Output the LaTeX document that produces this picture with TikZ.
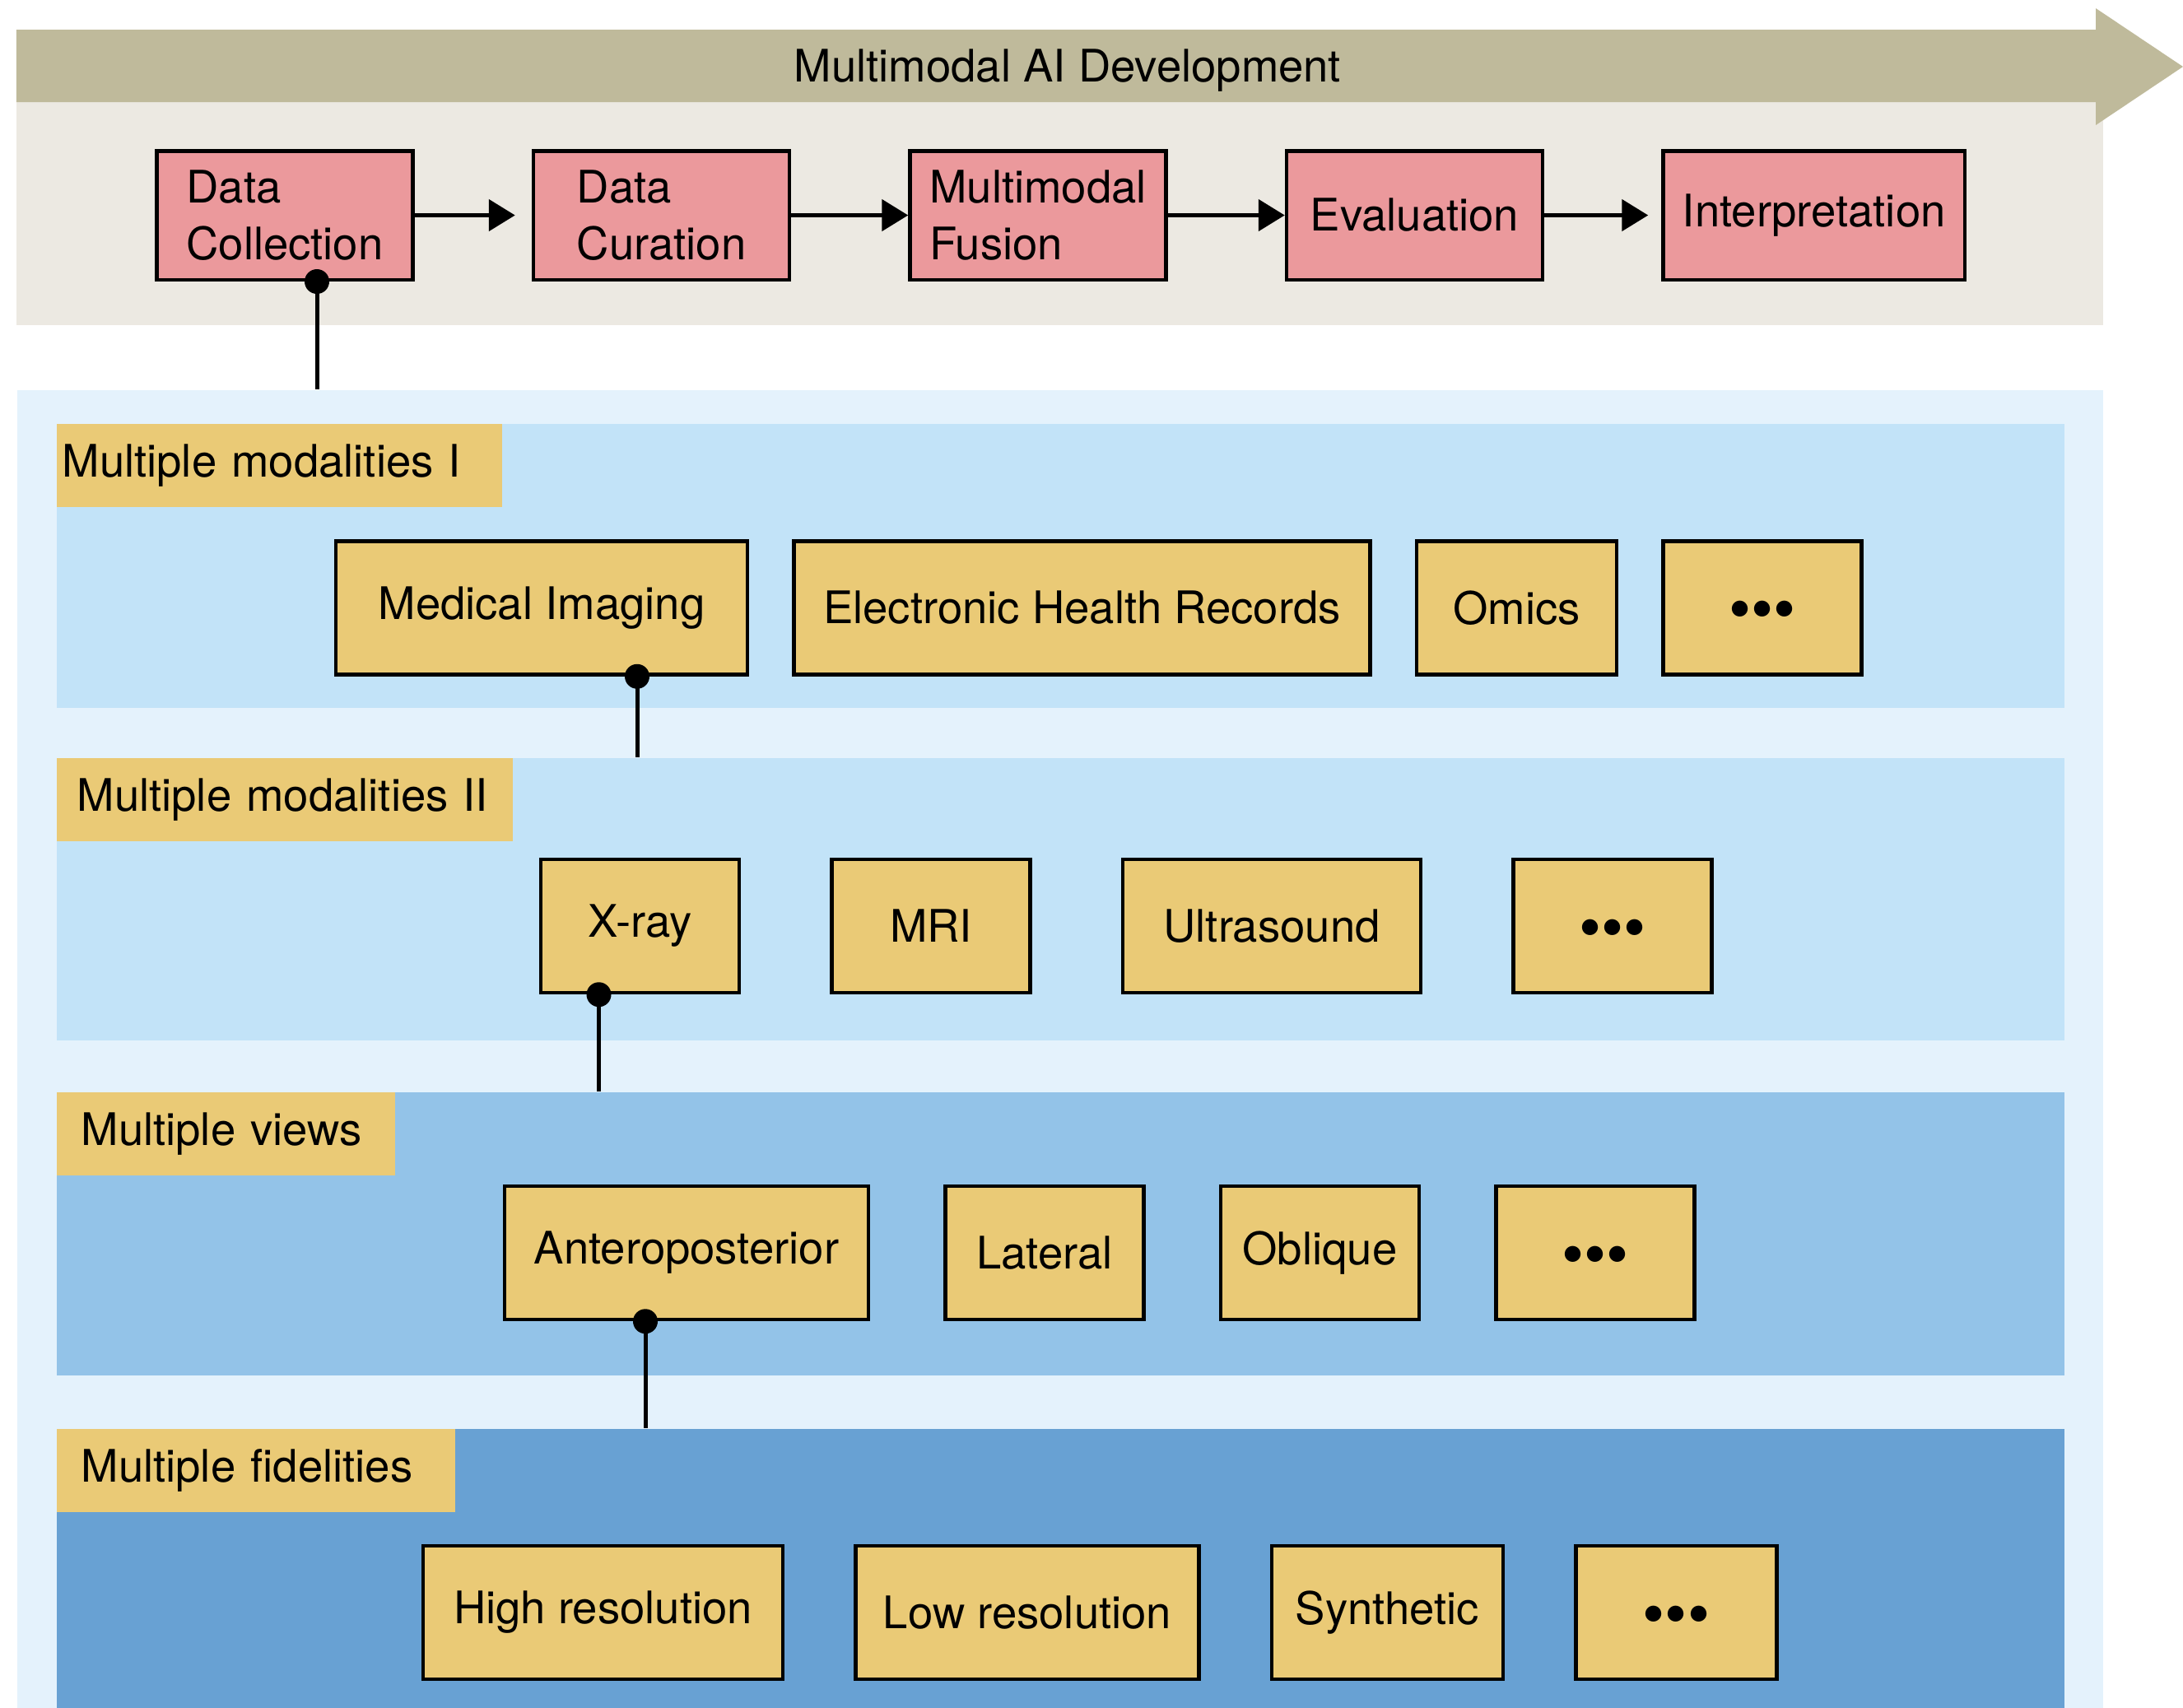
\documentclass[tikz,border=0pt]{standalone}
\usepackage{fontspec}
\setmainfont{TeX Gyre Heros}
\usetikzlibrary{positioning}
\usetikzlibrary{arrows.meta}

\definecolor{bandtan}{HTML}{BFBA9B}
\definecolor{panelbeige}{HTML}{ECE9E2}
\definecolor{stagepink}{HTML}{EB999C}
\definecolor{itemyellow}{HTML}{EACA76}
\definecolor{outerblue}{HTML}{E4F2FC}
\definecolor{lightblue}{HTML}{C2E3F8}
\definecolor{midblue}{HTML}{93C3E8}
\definecolor{deepblue}{HTML}{68A1D3}

\begin{document}
\begin{tikzpicture}[
        font=\fontsize{15.5}{19.6}\selectfont,
        stage/.style={
            draw,
            line width=0.045cm,
            fill=stagepink,
            align=left,
            minimum width=3.11cm,
            minimum height=1.565cm,
            inner sep=0pt,
        },
        item/.style={
            draw,
            line width=0.045cm,
            fill=itemyellow,
            minimum height=1.62cm,
            inner sep=0pt,
        },
        layer/.style={
            anchor=north west,
            inner sep=0pt,
        },
        tag/.style={
            anchor=north west,
            fill=itemyellow,
            align=left,
            minimum height=1.01cm,
            inner ysep=0pt,
            inner xsep=0.30cm,
        },
        flow/.style={
            -{Triangle[length=0.32cm,width=0.38cm]},
            line width=0.05cm,
        },
        link/.style={
            line width=0.05cm,
        },
        more/.style={
            font=\fontsize{22}{22}\selectfont,
        },
    ]
    \useasboundingbox (0,0) rectangle (26.52,-20.74);

    % Draw development arrow.
    \fill[panelbeige] (0.20,-1.24) rectangle (25.55,-3.95);
    \fill[bandtan] (0.20,-0.36) -- (25.46,-0.36) -- (25.46,-0.10)
        -- (26.52,-0.81) -- (25.46,-1.52) -- (25.46,-1.24) -- (0.20,-1.24) -- cycle;
    \node (title) at (12.97,-0.86) {Multimodal AI Development};

    % Define stages.
    \node[stage] (dc) at (3.46,-2.615) {Data\\Collection};
    \node[stage, right=1.42 of dc] (dcur) {Data\\Curation};
    \node[stage, right=1.42 of dcur] (fus) {Multimodal\\Fusion};
    \node[stage, right=1.42 of fus] (eval) {Evaluation};
    \node[stage, minimum width=3.665cm, right=1.42 of eval] (interp) {Interpretation};

    % Draw transitions.
    \draw[flow, shorten >=0.2cm] (dc) -- (dcur);
    \draw[flow] (dcur) -- (fus);
    \draw[flow] (fus) -- (eval);
    \draw[flow, shorten >=0.16cm] (eval) -- (interp);

    % Define layers.
    \node[layer, fill=outerblue, minimum width=25.34cm, minimum height=16.01cm] (panel) at (0.20,-4.73) {};
    \node[layer, fill=lightblue, minimum width=24.39cm, minimum height=3.45cm] (lay1) at (0.68,-5.14) {};
    \node[layer, fill=lightblue, minimum width=24.39cm, minimum height=3.43cm] (lay2) at (0.68,-9.20) {};
    \node[layer, fill=midblue, minimum width=24.39cm, minimum height=3.44cm] (lay3) at (0.68,-13.26) {};
    \node[layer, fill=deepblue, minimum width=24.39cm, minimum height=3.39cm] (lay4) at (0.68,-17.35) {};

    \node[tag, inner xsep=0.07cm, text width=5.27cm] (lab1) at (lay1.north west) {Multiple modalities I};
    \node[tag, inner xsep=0.25cm, text width=5.04cm] (lab2) at (lay2.north west) {Multiple modalities II};
    \node[tag, text width=3.51cm] (lab3) at (lay3.north west) {Multiple views};
    \node[tag, text width=4.24cm] (lab4) at (lay4.north west) {Multiple fidelities};

    % Draw items of each layer.
    \node[item, minimum width=5.0cm] (mi) at (6.58,-7.385) {Medical Imaging};
    \node[item, minimum width=7.0cm, right=0.52 of mi] (ehr) {Electronic Health Records};
    \node[item, minimum width=2.43cm, right=0.52 of ehr] (omics) {Omics};
    \node[item, more, minimum width=2.41cm, right=0.52 of omics] (more1) {\raisebox{-0.28cm}[0pt][0pt]{•••}};

    \node[item, minimum width=2.41cm] (xray) at (7.775,-11.25) {X-ray};
    \node[item, minimum width=2.41cm, right=1.08 of xray] (mri) {MRI};
    \node[item, minimum width=3.62cm, right=1.08 of mri] (us) {Ultrasound};
    \node[item, more, minimum width=2.41cm, right=1.08 of us] (more2) {\raisebox{-0.28cm}[0pt][0pt]{•••}};

    \node[item, minimum width=4.42cm] (ap) at (8.34,-15.22) {Anteroposterior};
    \node[item, minimum width=2.41cm, right=0.89 of ap] (lat) {Lateral};
    \node[item, minimum width=2.41cm, right=0.89 of lat] (obl) {Oblique};
    \node[item, more, minimum width=2.41cm, right=0.89 of obl] (more3) {\raisebox{-0.28cm}[0pt][0pt]{•••}};

    \node[item, minimum width=4.37cm] (hires) at (7.325,-19.59) {High resolution};
    \node[item, minimum width=4.17cm, right=0.84 of hires] (lores) {Low resolution};
    \node[item, minimum width=2.81cm, right=0.84 of lores] (syn) {Synthetic};
    \node[item, more, minimum width=2.44cm, right=0.84 of syn] (more4) {\raisebox{-0.28cm}[0pt][0pt]{•••}};

    % Draw links between levels.
    \coordinate[right=0.39 of dc.south] (dcdot);
    \coordinate[right=1.16 of mi.south] (midot);
    \coordinate[left=0.50 of xray.south] (xraydot);
    \coordinate[left=0.50 of ap.south] (apdot);

    \draw[link] (dcdot) -- (dcdot |- panel.north);
    \draw[link] (midot) -- (midot |- lay2.north);
    \draw[link] (xraydot) -- (xraydot |- lay3.north);
    \draw[link] (apdot) -- (apdot |- lay4.north);

    \fill (dcdot) circle (0.15);
    \fill (midot) circle (0.15);
    \fill (xraydot) circle (0.15);
    \fill (apdot) circle (0.15);

\end{tikzpicture}
\end{document}
